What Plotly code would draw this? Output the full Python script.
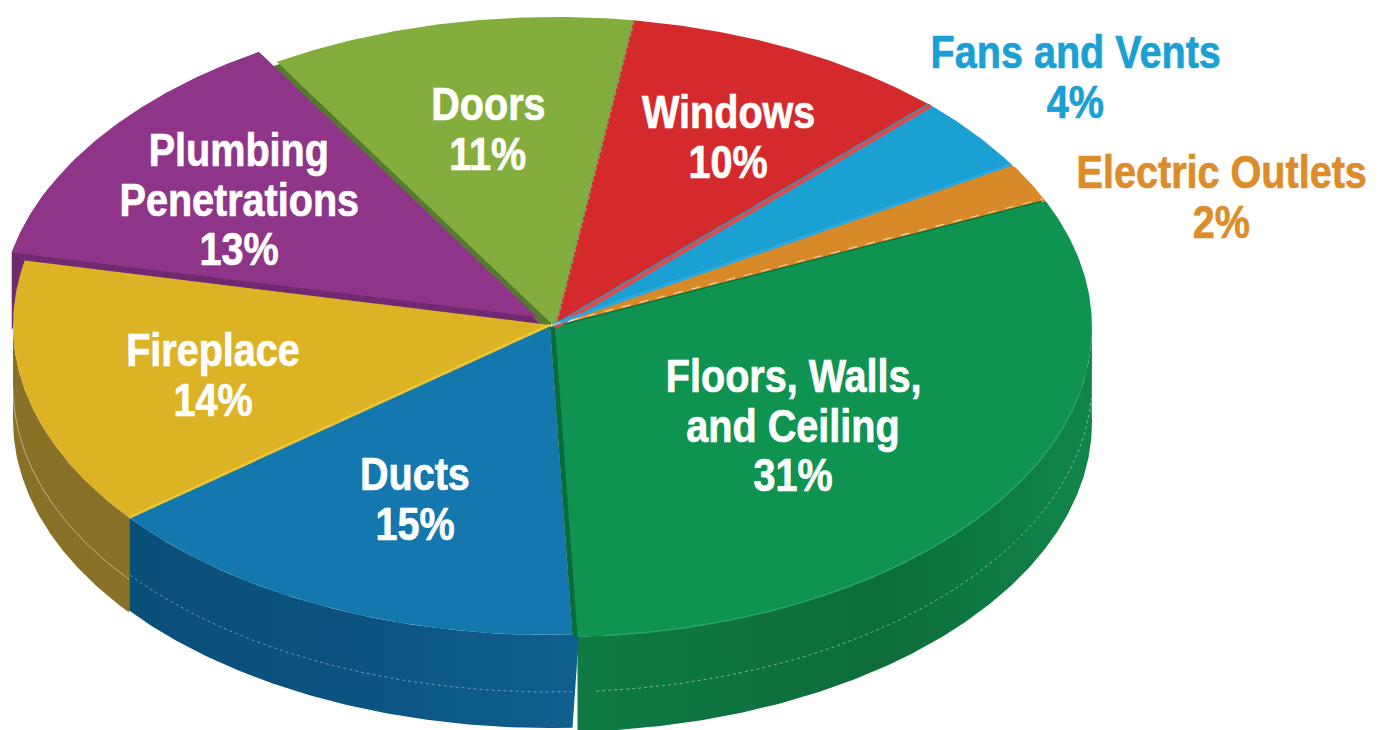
import numpy as np
import plotly.graph_objects as go

# ---- data (clockwise from the Floors slice) ----
categories = ["Floors, Walls,\nand Ceiling", "Ducts", "Fireplace", "Plumbing\nPenetrations",
              "Doors", "Windows", "Fans and Vents", "Electric Outlets"]
values = [31, 15, 14, 13, 11, 10, 4, 2]

# ---- styles ----
top_colors = ["#0f9350", "#1477ae", "#dcb325", "#8e358a", "#83ae3e", "#d42a2c", "#1ba0d4", "#d88a28"]
text_colors = ["white", "white", "white", "white", "white", "white", "#1ba0d4", "#dd8c2a"]
offset_x = [3, -2, -2, -15, 3, 3, 0, 0]
offset_y = [2, 0, 0, -8, 2, 2, 0, 0]
label_x = [793, 415, 213, 239, 488, 728, 1075, 1221]
label_y = [376, 474, 350, 150, 104, 112, 52, 172]
LINE_STEP = 49.5
FONT = "Liberation Sans"
FONT_SIZE = 46
TEXT_SQUEEZE = 0.86
CX, CY, RX, RY, DEPTH = 552, 325, 537, 310, 95
START = 24.0


def pt(a, ox=0, oy=0):
    r = np.radians(a)
    return CX + ox + RX * np.cos(r), CY + oy - RY * np.sin(r)


def arc(a0, a1, ox=0, oy=0):
    n = max(int(abs(a1 - a0)) * 2, 2)
    return pt(np.linspace(a0, a1, n), ox, oy)


# slice boundaries from the values
edges = [START]
for v in values:
    edges.append(edges[-1] - v * 3.6)


def wedge(i, dx=0, dy=0):
    ox, oy = offset_x[i] + dx, offset_y[i] + dy
    ax, ay = arc(edges[i], edges[i + 1], ox, oy)
    return ([CX + ox, *ax, CX + ox], [CY + oy, *ay, CY + oy])


fig = go.Figure()


def fill(x, y, color=None, grad=None):
    kw = dict(fillgradient=grad) if grad else dict(fillcolor=color)
    fig.add_trace(go.Scatter(x=list(x), y=list(y), mode="lines", fill="toself",
                             line=dict(width=0, color="rgba(0,0,0,0)"), hoverinfo="skip", **kw))


def line(x, y, color, width, dash="solid"):
    fig.add_trace(go.Scatter(x=list(x), y=list(y), mode="lines", hoverinfo="skip",
                             line=dict(color=color, width=width, dash=dash)))


def side(i, a0, a1, depth, grad=None, color=None, trim=0.0):
    ox, oy = offset_x[i], offset_y[i]
    tx, ty = arc(a0, a1, ox, oy)
    bx, by = arc(a0 + trim, a1, ox, oy + depth)
    fill([*tx, *bx[::-1]], [*ty, *by[::-1]], color=color, grad=grad)


def hgrad(*cols):
    stops = np.linspace(0, 1, len(cols))
    return dict(type="horizontal", colorscale=[[float(s), c] for s, c in zip(stops, cols)])


# outer walls
side(3, edges[3] + 0, -205, 78, color="#6f2a70")
side(0, 0, edges[1], DEPTH, grad=hgrad("#0f7a42", "#0e7641", "#0d713e", "#0c6d3b", "#0e7a43", "#118549"), trim=1.6)
side(1, edges[1] + 0.7, edges[2], 93, grad=hgrad("#0a4f78", "#0b5380", "#0f5f8f"), trim=-0.7)
side(2, edges[2], -180, 95, color="#8a7128")

# seams on the walls
sx, sy = arc(edges[2], -180, offset_x[2], 62)
line(sx, sy, "rgba(255,255,255,0.45)", 1)
sx, sy = arc(edges[1], edges[2], offset_x[1], 57)
line(sx, sy, "rgba(255,255,255,0.40)", 1, "dot")
sx, sy = arc(edges[1] + 2, -3, offset_x[0], 57)
line(sx, sy, "rgba(255,255,255,0.45)", 1, "dot")

# inner walls, seen as darker copies of a slice
wx, wy = wedge(3, 8, 11)
fill(wx, wy, "#702a72")
wx, wy = wedge(4, -6, 5)
fill(wx, wy, "#567a30")

# top faces
for i in [3, 2, 1, 4, 5, 6, 7]:
    wx, wy = wedge(i)
    fill(wx, wy, top_colors[i])

# filler under the Floors slice: dark wall against Ducts, Electric reaching the Floors edge
wx, wy = wedge(7, 3, 2)
fill(wx, wy, top_colors[7])
wx, wy = wedge(0, -5, 0)
fill(wx, wy, "#0c6b3a")
wx, wy = wedge(0)
fill(wx, wy, top_colors[0])


def spoke(edge, i, color, width, dash="solid"):
    ox, oy = offset_x[i], offset_y[i]
    ex, ey = pt(edge, ox, oy)
    line([CX + ox, ex], [CY + oy, ey], color, width, dash)


spoke(edges[2], 2, "#eec830", 2.5)
spoke(edges[5], 4, "#7ea05a", 3, "dot")
spoke(edges[6], 5, "#e04a4a", 4)
spoke(edges[7], 6, "#2ea8dc", 3)
spoke(edges[8], 7, "#f3cf94", 1.2, "dash")

# rim highlight
hx, hy = arc(-12, edges[1] + 3, offset_x[0], offset_y[0])
line(hx, hy, "#2aa563", 1.5)

# labels
annotations = []
for name, lx, ly, col in zip(categories, label_x, label_y, text_colors):
    value = values[categories.index(name)]
    for k, txt in enumerate(name.split("\n") + [f"{value}%"]):
        annotations.append(dict(x=lx, y=ly + k * LINE_STEP, xref="x", yref="y", showarrow=False,
                                xanchor="center", yanchor="middle", text=txt,
                                font=dict(family=FONT, size=FONT_SIZE, color=col, weight="bold")))

fig.update_layout(
    width=1380, height=730, margin=dict(l=0, r=0, t=0, b=0),
    paper_bgcolor="white", plot_bgcolor="white", showlegend=False, annotations=annotations,
    xaxis=dict(range=[0, 1380], visible=False, fixedrange=True),
    yaxis=dict(range=[730, 0], visible=False, fixedrange=True),
)

squeeze_js = """
document.body.style.margin='0';document.body.style.overflow='hidden';
function squeezeLabels(){
  document.querySelectorAll('.annotation-text').forEach(function(t){
    if(t.getAttribute('textLength')) return;
    var w=t.getComputedTextLength();
    t.setAttribute('lengthAdjust','spacingAndGlyphs');
    t.setAttribute('textLength',String(w*%s));
    t.style.stroke=t.style.fill;t.style.strokeWidth='0.7px';
  });
}
squeezeLabels();setTimeout(squeezeLabels,50);
""" % TEXT_SQUEEZE
fig.write_html("out.html", include_plotlyjs=True, config={"displayModeBar": False},
               post_script=squeeze_js)
